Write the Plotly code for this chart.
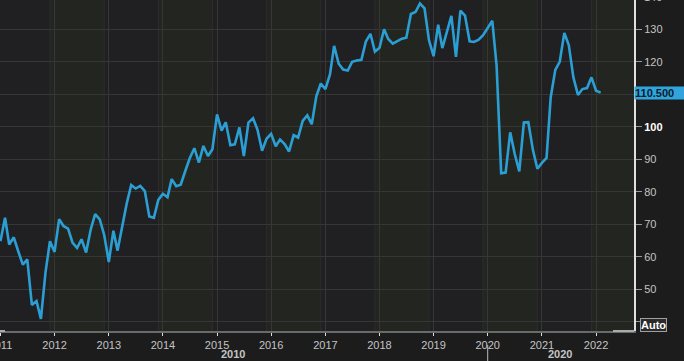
import plotly.graph_objects as go
import pandas as pd

# Monthly index values, Jan 2011 .. Feb 2022
values_2011 = [64.8, 72.0, 63.8, 66.0, 61.7, 57.6, 59.2, 45.2, 46.4, 40.9, 55.2, 64.8]
values_2012 = [61.5, 71.6, 69.5, 68.7, 64.4, 62.7, 65.4, 61.3, 68.4, 73.1, 71.5, 66.7]
values_2013 = [58.4, 68.0, 61.9, 69.0, 76.2, 82.1, 81.0, 81.8, 80.2, 72.4, 72.0, 77.5]
values_2014 = [79.4, 78.3, 83.9, 81.7, 82.2, 86.4, 90.3, 93.4, 89.0, 94.1, 91.0, 93.1]
values_2015 = [103.8, 98.8, 101.4, 94.3, 94.6, 99.8, 91.0, 101.3, 102.6, 99.1, 92.6, 96.3]
values_2016 = [97.8, 94.0, 96.1, 94.7, 92.4, 97.4, 96.7, 101.8, 103.5, 100.8, 109.4, 113.3]
values_2017 = [111.6, 116.1, 124.9, 119.4, 117.6, 117.3, 120.0, 120.4, 120.6, 126.2, 128.6, 123.1]
values_2018 = [124.3, 130.0, 127.0, 125.6, 126.4, 127.1, 127.4, 134.7, 135.3, 137.9, 136.4, 126.6]
values_2019 = [121.7, 131.4, 124.2, 129.2, 134.1, 121.5, 135.7, 134.2, 126.3, 126.1, 126.8, 128.2]
values_2020 = [130.4, 132.6, 118.8, 85.7, 85.9, 98.3, 91.7, 86.3, 101.3, 101.4, 92.9, 87.1]
values_2021 = [88.9, 90.4, 109.0, 117.5, 120.0, 128.9, 125.1, 115.2, 109.8, 111.6, 111.9, 115.2]
values_2022 = [111.1, 110.5]

values = (values_2011 + values_2012 + values_2013 + values_2014 + values_2015 +
          values_2016 + values_2017 + values_2018 + values_2019 + values_2020 +
          values_2021 + values_2022)
dates = pd.date_range("2011-01-01", periods=len(values), freq="MS")

years = list(range(2011, 2023))
y_ticks = [40, 50, 60, 70, 80, 90, 100, 110, 120, 130]
last_label = "110.500"

LABEL = "#c4c4c4"
GRID = "#363636"
FONT = "Liberation Sans"

fig = go.Figure()
fig.add_trace(go.Scatter(x=dates, y=values, mode="lines",
                         line=dict(color="#2b9fd4", width=2.6),
                         hoverinfo="skip", showlegend=False))

shapes = []
# alternating year bands
for yr in years:
    if yr % 2 == 0:
        shapes.append(dict(type="rect", xref="x", yref="paper",
                           x0=f"{yr-1}-12-01", x1=f"{yr}-12-01", y0=0, y1=1,
                           fillcolor="#232620", line=dict(width=0), layer="below"))
    shapes.append(dict(type="line", xref="x", yref="paper",
                       x0=f"{yr-1}-12-01", x1=f"{yr-1}-12-01", y0=0, y1=1,
                       line=dict(color="#2c2c2c", width=1), layer="below"))
# light segments on the bottom axis line
shapes.append(dict(type="line", xref="paper", yref="paper", x0=0, x1=5/634, y0=0, y1=0,
                   line=dict(color="#aaaaaa", width=2)))
shapes.append(dict(type="line", xref="paper", yref="paper", x0=613/634, x1=1, y0=0, y1=0,
                   line=dict(color="#aaaaaa", width=2)))
# decade separator
shapes.append(dict(type="line", xref="x", yref="paper", x0="2020-01-01", x1="2020-01-01",
                   y0=-14/331, y1=-30/331, line=dict(color="#bbbbbb", width=1)))

ticktext = []
for v in y_ticks:
    if v in (40, 110):
        ticktext.append(" ")
    elif v == 100:
        ticktext.append("<b><span style='color:#ffffff'>100</span></b>")
    else:
        ticktext.append(str(v))

fig.update_layout(
    width=684, height=361,
    margin=dict(l=0, r=50, t=0, b=30, autoexpand=False),
    paper_bgcolor="#1c1c1c",
    plot_bgcolor="#201f22",
    font=dict(family=FONT, size=11, color=LABEL),
    shapes=shapes,
    xaxis=dict(
        type="date",
        range=["2010-12-29", "2022-09-14"],
        tick0="2011-01-01", dtick="M12", tickformat="%Y",
        showgrid=True, gridcolor=GRID, gridwidth=1,
        ticks="outside", ticklen=3, tickcolor="#dddddd",
        showline=True, linecolor="#6a6a6a", linewidth=2,
        tickfont=dict(family=FONT, size=11, color=LABEL),
        ticklabeloverflow="allow",
        zeroline=False, fixedrange=True, automargin=False,
    ),
    yaxis=dict(
        side="right",
        range=[37.17, 139.0],
        tickvals=y_ticks, ticktext=ticktext,
        showgrid=True, gridcolor=GRID, gridwidth=1,
        ticks="outside", ticklen=6, tickcolor="#9a9a9a",
        showline=True, linecolor="#e0e0e0", linewidth=2,
        tickfont=dict(family=FONT, size=11, color=LABEL),
        zeroline=False, fixedrange=True, automargin=False,
    ),
    annotations=[
        dict(xref="paper", yref="y", x=1, y=values[-1], xanchor="left", yanchor="middle",
             text=f"<b>{last_label}</b>", showarrow=False, bgcolor="#2fa5db",
             font=dict(family=FONT, size=11, color="#0b1a2e"), borderpad=0, width=50,
             align="left"),
        dict(xref="paper", yref="paper", x=640/634, y=(331-324.5)/331, xanchor="left",
             yanchor="middle", text="<b>Auto</b>", showarrow=False, bgcolor="#2a2a2a",
             bordercolor="#a0a0a0", borderwidth=1, borderpad=0,
             font=dict(family=FONT, size=11, color="#ffffff")),
        dict(xref="paper", yref="paper", x=642/634, y=1 + 3/331, xanchor="left",
             yanchor="middle", text="140", showarrow=False,
             font=dict(family=FONT, size=11, color=LABEL)),
        dict(xref="paper", yref="paper", x=233/634, y=-23/331, xanchor="center",
             yanchor="middle", text="<b>2010</b>", showarrow=False,
             font=dict(family=FONT, size=11, color=LABEL)),
        dict(xref="paper", yref="paper", x=560/634, y=-23/331, xanchor="center",
             yanchor="middle", text="<b>2020</b>", showarrow=False,
             font=dict(family=FONT, size=11, color=LABEL)),
    ],
)

fig.write_html("out.html", config={"displayModeBar": False},
               post_script="document.body.style.margin='0';document.body.style.overflow='hidden';")
